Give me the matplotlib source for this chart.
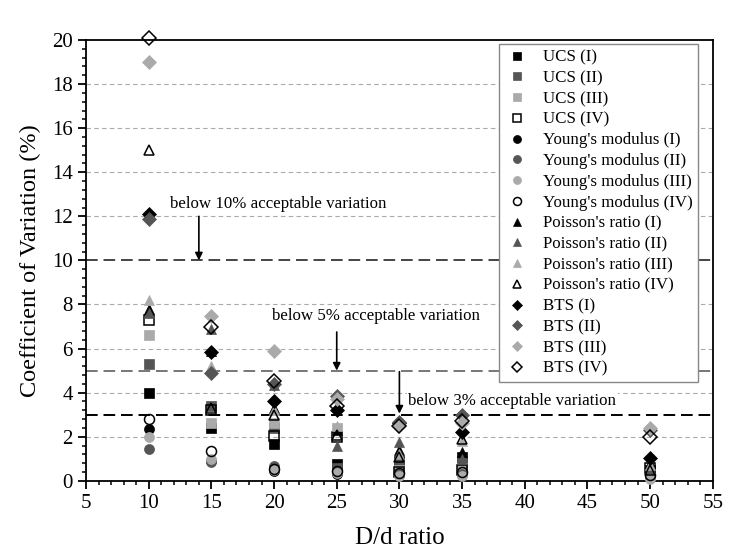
import numpy as np
import matplotlib.pyplot as plt
from matplotlib.ticker import MultipleLocator

plt.rcParams['font.family'] = ['Liberation Serif', 'DejaVu Serif']

ratios = [10, 15, 20, 25, 30, 35, 50]

ucs_1 = [4.0, 2.4, 1.65, 0.75, 0.9, 1.1, 0.5]
ucs_2 = [5.3, 3.4, 2.4, 0.6, 0.7, 0.8, 0.4]
ucs_3 = [6.6, 2.6, 2.6, 2.4, 0.5, 0.6, 0.3]
ucs_4 = [7.3, 3.2, 2.05, 2.0, 0.4, 0.5, 0.6]
young_1 = [2.35, 0.9, 0.45, 0.3, 0.25, 0.25, 0.15]
young_2 = [1.45, 0.85, 0.65, 0.4, 0.3, 0.3, 0.2]
young_3 = [2.0, 1.0, 0.5, 0.35, 0.2, 0.2, 0.1]
young_4 = [2.8, 1.35, 0.55, 0.45, 0.35, 0.4, 0.25]
poisson_1 = [7.8, 5.9, 3.3, 2.3, 1.4, 1.3, 0.8]
poisson_2 = [7.6, 6.9, 4.35, 1.6, 1.75, 1.0, 0.6]
poisson_3 = [8.2, 5.2, 3.2, 2.5, 1.2, 1.8, 0.7]
poisson_4 = [15.0, 3.3, 3.0, 2.1, 1.1, 1.9, 0.5]
bts_1 = [12.1, 5.85, 3.6, 3.2, 2.6, 2.2, 1.05]
bts_2 = [11.9, 4.9, 4.4, 3.85, 2.65, 3.0, 2.3]
bts_3 = [19.0, 7.5, 5.9, 3.7, 2.55, 2.6, 2.4]
bts_4 = [20.1, 7.0, 4.55, 3.4, 2.5, 2.7, 2.0]

labels = ["UCS (I)", "UCS (II)", "UCS (III)", "UCS (IV)",
          "Young's modulus (I)", "Young's modulus (II)", "Young's modulus (III)", "Young's modulus (IV)",
          "Poisson's ratio (I)", "Poisson's ratio (II)", "Poisson's ratio (III)", "Poisson's ratio (IV)",
          "BTS (I)", "BTS (II)", "BTS (III)", "BTS (IV)"]
series = [ucs_1, ucs_2, ucs_3, ucs_4, young_1, young_2, young_3, young_4,
          poisson_1, poisson_2, poisson_3, poisson_4, bts_1, bts_2, bts_3, bts_4]

markers = ['s', 'o', '^', 'D']
shades = ['black', '#555555', '#aaaaaa', 'none']
sizes = {'s': 6.8, 'o': 7.2, '^': 7.8, 'D': 6.8}

fig = plt.figure(figsize=(7.55, 5.52), dpi=100)
ax = fig.add_axes([0.114, 0.129, 0.83, 0.7985])

# light dashed grid
for g in [2, 4, 6, 8, 12, 14, 16, 18]:
    ax.axhline(g, color='#aaaaaa', lw=0.8, ls=(0, (4, 3)), zorder=0)

# acceptance limits
ax.axhline(10, color='#444444', lw=1.4, ls=(0, (6, 3)), zorder=1)
ax.axhline(5, color='#777777', lw=1.4, ls=(0, (6, 3)), zorder=1)
ax.axhline(3, color='black', lw=1.4, ls=(0, (6, 3)), zorder=1)

for i, (vals, lab) in enumerate(zip(series, labels)):
    m = markers[i // 4]
    shade = shades[i % 4]
    if shade == 'none':
        ax.plot(ratios, vals, ls='none', marker=m, ms=sizes[m], mfc='none',
                mec='black', mew=1.1, label=lab, zorder=3, clip_on=False)
    else:
        ax.plot(ratios, vals, ls='none', marker=m, ms=sizes[m], mfc=shade,
                mec=shade, mew=0.5, label=lab, zorder=3, clip_on=False)

txt_box = dict(facecolor='white', edgecolor='none', pad=1)
arrow = dict(arrowstyle='-|>', color='black', lw=1.2, mutation_scale=11,
             shrinkA=0, shrinkB=0)
ax.text(11.7, 12.55, "below 10% acceptable variation", fontsize=12.2, va='center', bbox=txt_box, zorder=2)
ax.annotate("", xy=(14, 10), xytext=(14, 12.0), arrowprops=arrow, zorder=4)
ax.text(19.8, 7.5, "below 5% acceptable variation", fontsize=12.2, va='center', bbox=txt_box, zorder=2)
ax.annotate("", xy=(25, 5), xytext=(25, 6.75), arrowprops=arrow, zorder=4)
ax.text(30.7, 3.6, "below 3% acceptable variation", fontsize=12.2, va='center', bbox=txt_box, zorder=2)
ax.annotate("", xy=(30, 3.05), xytext=(30, 4.95), arrowprops=arrow, zorder=4)

ax.set_xlim(5, 55)
ax.set_ylim(0, 20)
ax.xaxis.set_major_locator(MultipleLocator(5))
ax.xaxis.set_minor_locator(MultipleLocator(1))
ax.yaxis.set_major_locator(MultipleLocator(2))
ax.yaxis.set_minor_locator(MultipleLocator(0.4))
ax.tick_params(which='major', direction='out', length=6, width=1.3, labelsize=15)
ax.tick_params(which='minor', direction='out', length=3, width=1.1)
for s in ax.spines.values():
    s.set_linewidth(1.3)

ax.set_xlabel("D/d ratio", fontsize=18, labelpad=10)
ax.set_ylabel("Coefficient of Variation (%)", fontsize=17.5, labelpad=8)

leg = ax.legend(loc='upper right', bbox_to_anchor=(0.977, 0.99), fontsize=12.2,
                frameon=True, fancybox=False, framealpha=1, edgecolor='#888888',
                borderpad=0.3, labelspacing=0.28, handletextpad=0.8, handlelength=1.5,
                borderaxespad=0, markerscale=0.8)
leg.get_frame().set_linewidth(1.0)
leg.set_zorder(5)

fig.savefig("out.png", dpi=100)
